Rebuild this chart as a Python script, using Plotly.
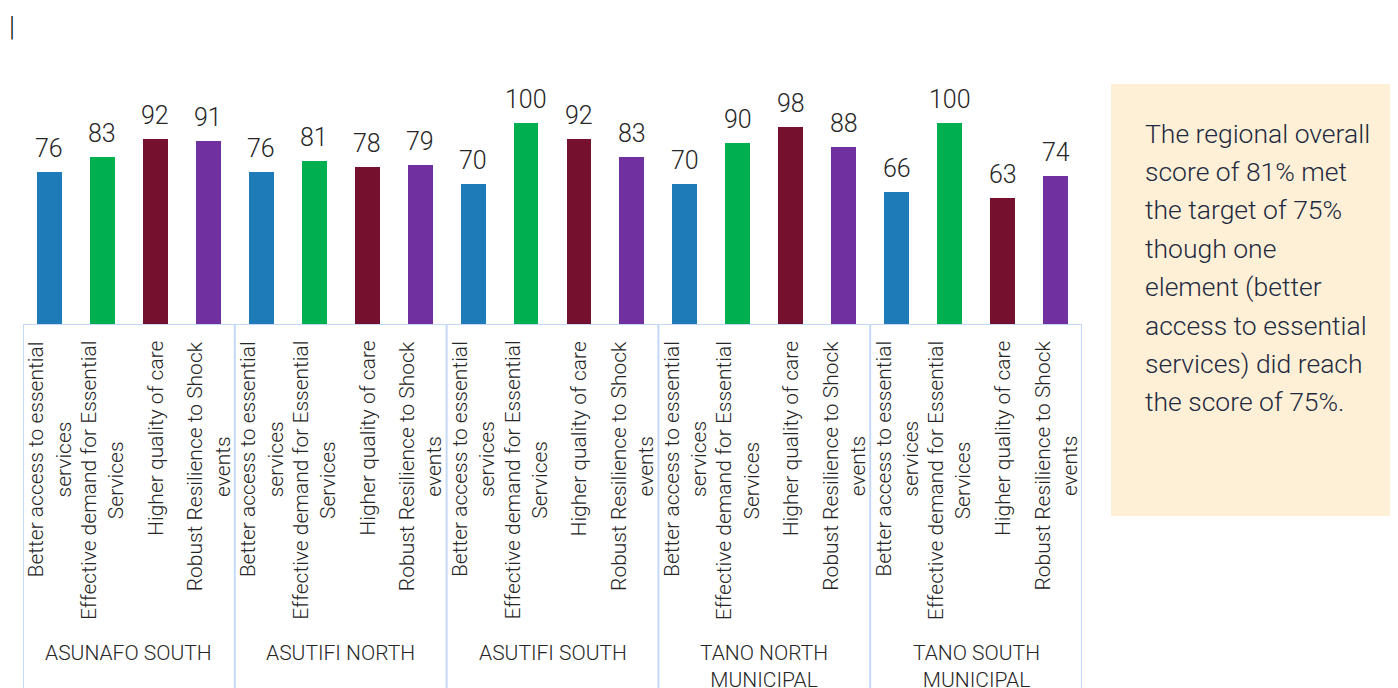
import plotly.graph_objects as go

districts = ["ASUNAFO SOUTH", "ASUTIFI NORTH", "ASUTIFI SOUTH", "TANO NORTH<br>MUNICIPAL", "TANO SOUTH<br>MUNICIPAL"]
elements = [
    "Better access to essential<br>services",
    "Effective demand for Essential<br>Services",
    "Higher quality of care",
    "Robust Resilience to Shock<br>events",
]
element_colors = ["#1f7bb8", "#00b050", "#76102f", "#7030a0"]
scores = {
    "ASUNAFO SOUTH": [76, 83, 92, 91],
    "ASUTIFI NORTH": [76, 81, 78, 79],
    "ASUTIFI SOUTH": [70, 100, 92, 83],
    "TANO NORTH<br>MUNICIPAL": [70, 90, 98, 88],
    "TANO SOUTH<br>MUNICIPAL": [66, 100, 63, 74],
}
note_lines = [
    "The regional overall",
    "score of 81% met",
    "the target of 75%",
    "though one",
    "element (better",
    "access to essential",
    "services) did reach",
    "the score of 75%.",
]

FONT = "Roboto"
TXT = "#262626"
GRID = "#c4d9f7"

xs, ys, cols, labels = [], [], [], []
n_el = len(elements)
for gi, d in enumerate(districts):
    for ei, e in enumerate(elements):
        xs.append(gi * n_el + ei)
        ys.append(scores[d][ei])
        cols.append(element_colors[ei])
        labels.append(e)

fig = go.Figure()
fig.add_trace(go.Bar(
    x=xs, y=ys, marker=dict(color=cols, line=dict(width=0)), width=0.47,
    showlegend=False, hoverinfo="y",
))

annotations = []
shapes = []
# value labels
for x, y in zip(xs, ys):
    annotations.append(dict(
        x=x, y=y, xref="x", yref="y", text=str(y), showarrow=False,
        xanchor="center", yanchor="bottom", yshift=7,
        font=dict(family=FONT, size=25, color=TXT, weight=300),
    ))
# element tick labels
for x, lab in zip(xs, labels):
    annotations.append(dict(
        x=x, y=0, xref="x", yref="y", text=lab, textangle=-90,
        showarrow=False, xanchor="center", yanchor="top", yshift=-14, align="center",
        font=dict(family=FONT, size=21, color=TXT, weight=300),
    ))
# district labels
for gi, d in enumerate(districts):
    annotations.append(dict(
        x=gi * n_el + (n_el - 1) / 2, y=0, xref="x", yref="y", text=d,
        showarrow=False, xanchor="center", yanchor="top", yshift=-314, align="center",
        font=dict(family=FONT, size=21, color=TXT, weight=300),
    ))
# divider lines
for gi in range(len(districts) + 1):
    xb = gi * n_el - 0.5
    shapes.append(dict(type="line", xref="x", yref="paper", x0=xb, x1=xb, y0=0, y1=-1.6,
                       line=dict(color=GRID, width=2)))
shapes.append(dict(type="line", xref="x", yref="y", x0=-0.5, x1=len(xs) - 0.5, y0=0, y1=0,
                   line=dict(color=GRID, width=2)))

# note box
shapes.append(dict(type="rect", xref="paper", yref="paper", x0=1.0274, x1=1.32, y0=0.9837, y1=-0.7796,
                   fillcolor="#fdf0d6", line=dict(width=0), layer="below"))
for k, line in enumerate(note_lines):
    annotations.append(dict(
        x=1.0576, y=1, xref="paper", yref="paper", text=line, showarrow=False,
        xanchor="left", yanchor="middle", yshift=-(133 - 80) - 38.4 * k,
        font=dict(family=FONT, size=26.5, color="#1f2a40", weight=300),
    ))
# cursor mark at top-left
annotations.append(dict(x=-0.0104, y=1, xref="paper", yref="paper", text="|", showarrow=False,
                        xanchor="center", yanchor="middle", yshift=(80 - 27),
                        font=dict(family=FONT, size=27, color="#111111", weight=300)))

fig.update_layout(
    width=1398, height=688,
    margin=dict(l=15, r=324, t=72, b=371, pad=0),
    paper_bgcolor="white", plot_bgcolor="white",
    xaxis=dict(range=[-0.5, len(xs) - 0.5], showticklabels=False, showgrid=False, zeroline=False,
               showline=False, ticks=""),
    yaxis=dict(range=[0, 121.3], visible=False, showgrid=False, zeroline=False),
    annotations=annotations, shapes=shapes,
    bargap=0,
)

fig.write_html("out.html")
